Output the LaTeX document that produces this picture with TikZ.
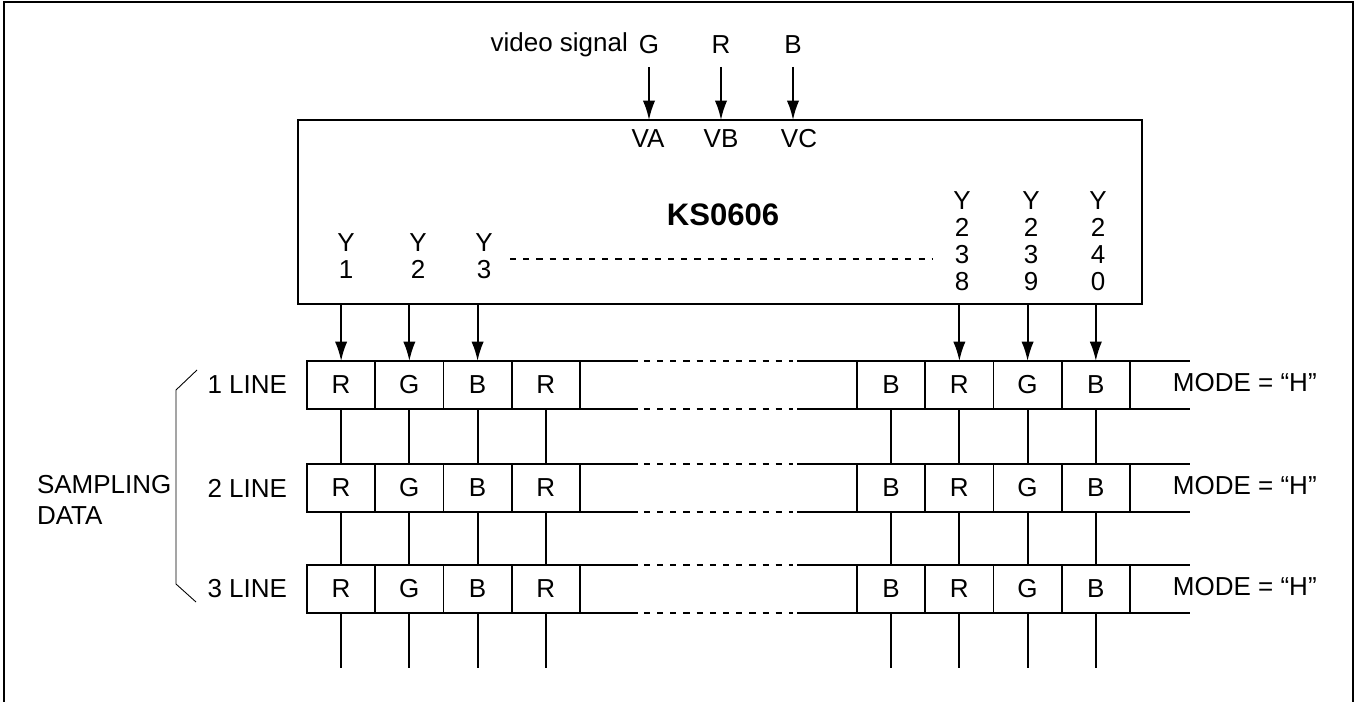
\documentclass[tikz,border=0pt]{standalone}
\usepackage{fontspec}
\setmainfont{Liberation Sans}
\usepackage{tikz}
\usetikzlibrary{positioning, arrows.meta, calc}

\begin{document}
\begin{tikzpicture}[x=0.02cm, y=-0.02cm,
  every node/.style={font=\fontsize{14.8}{15.4}\selectfont, inner sep=0pt, outer sep=0pt},
  chip/.style={rectangle, draw, line width=1.1pt, minimum width=16.88cm,
    minimum height=3.68cm, anchor=north west},
  cell/.style={rectangle, draw, line width=1.1pt, minimum width=1.365cm, minimum height=0.96cm},
  pin/.style={align=center},
  link/.style={-{Latex[length=11pt,width=7pt]}, line width=1.1pt},
  wire/.style={line width=1.1pt},
  gap/.style={line width=1pt, dash pattern=on 3.5pt off 4pt},
  brace/.style={line width=0.5pt}
]
  \useasboundingbox (0,0) rectangle (1356,702);
  \draw[line width=1.2pt] (4,702) -- (4,2) -- (1353,2) -- (1353,702);

  % driver chip
  \node[chip] (chip) at (298,120) {};
  \node[font=\fontsize{17.7}{20}\selectfont\bfseries] (name) at (723,215) {KS0606};
  \node (va) at (648,139) {VA};
  \node (vb) at (721,139) {VB};
  \node (vc) at (799,139) {VC};

  % video inputs
  \node (sigG) at (649,45) {G};
  \node (sigR) at (721,45) {R};
  \node (sigB) at (793,45) {B};
  \node[left=0.22cm of sigG] (vsig) {video signal};
  \foreach \s in {sigG,sigR,sigB}
    \draw[link] ($(\s.south)+(0,13)$) -- (\s |- chip.north);

  % outputs
  \node[pin] (y1) at (346,256) {Y\\1};
  \node[pin] (y2) at (418,256) {Y\\2};
  \node[pin] (y3) at (484,256) {Y\\3};
  \node[pin] (y238) at (962,241) {Y\\2\\3\\8};
  \node[pin] (y239) at (1031,241) {Y\\2\\3\\9};
  \node[pin] (y240) at (1098,241) {Y\\2\\4\\0};
  \draw[gap, line width=0.9pt] (510,259) -- (933,259);

  % sampling lines
  \foreach \r/\y in {1/361, 2/464, 3/565} {
    \node[cell, anchor=north west] (c\r-1) at (307,\y) {R};
    \node[cell, right=0pt of c\r-1] (c\r-2) {G};
    \node[cell, right=0pt of c\r-2] (c\r-3) {B};
    \node[cell, right=0pt of c\r-3] (c\r-4) {R};
    \node[cell, anchor=north west] (c\r-5) at (857,\y) {B};
    \node[cell, right=0pt of c\r-5] (c\r-6) {R};
    \node[cell, right=0pt of c\r-6] (c\r-7) {G};
    \node[cell, right=0pt of c\r-7] (c\r-8) {B};
    \node[left=0.4cm of c\r-1] (line\r) {\r\ LINE};
    \node[right=0.86cm of c\r-8, yshift=1.5pt] (mode\r) {MODE = “H”};
    \foreach \a/\b in {north/north, south/south} {
      \draw[wire] (c\r-4.\a\space east) -- ++(58,0);
      \draw[gap] ($(c\r-4.\a\space east)+(64,0)$) -- ($(c\r-5.\b\space west)+(-64,0)$);
      \draw[wire] (c\r-5.\b\space west) -- ++(-60,0);
      \draw[wire] (c\r-8.\a\space east) -- ++(60,0);
    }
  }

  \foreach \c in {1,2,3,6,7,8}
    \draw[link] (c1-\c.north |- chip.south) -- (c1-\c.north);
  \foreach \c in {1,...,8} {
    \draw[wire] (c1-\c.south) -- (c2-\c.north);
    \draw[wire] (c2-\c.south) -- (c3-\c.north);
    \draw[wire] (c3-\c.south) -- ++(0,55);
  }

  % brace
  \draw[brace] (197,370) -- (176,390) -- (176,584) -- (196,602);
  \node[align=left, anchor=west, font=\fontsize{14.8}{17.6}\selectfont] (samp) at (37,500) {SAMPLING\\DATA};
\end{tikzpicture}
\end{document}
